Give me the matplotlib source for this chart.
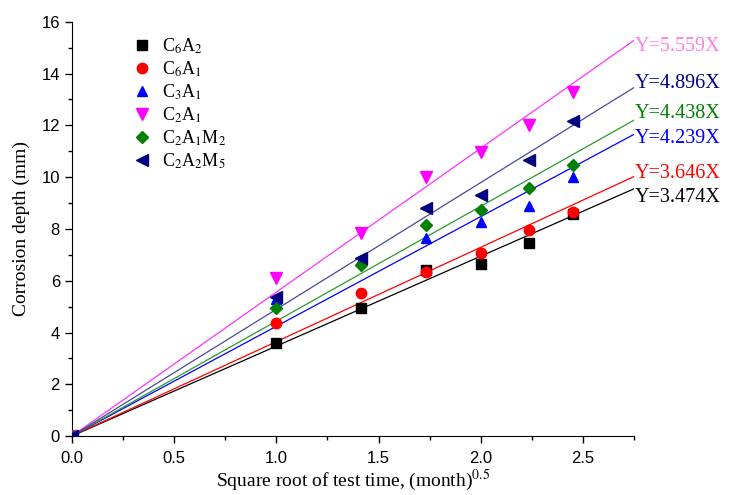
import numpy as np
import matplotlib
matplotlib.use("Agg")
import matplotlib.pyplot as plt
from matplotlib.ticker import MultipleLocator

plt.rcParams['mathtext.fontset'] = 'stix'

# measurement times (sqrt of months)
x_vals = [0, 1.0, 1.414, 1.732, 2.0, 2.236, 2.449]

c6a2 = [0, 3.61, 4.93, 6.40, 6.63, 7.47, 8.58]
c6a1 = [0, 4.35, 5.51, 6.35, 7.06, 7.94, 8.67]
c3a1 = [0, 5.28, 6.80, 7.64, 8.28, 8.89, 10.02]
c2a1 = [0, 6.09, 7.85, 10.00, 10.99, 12.02, 13.28]
c2a1m2 = [0, 4.93, 6.61, 8.15, 8.73, 9.57, 10.47]
c2a2m5 = [0, 5.36, 6.87, 8.82, 9.31, 10.67, 12.15]

labels = ["C$_6$A$_2$", "C$_6$A$_1$", "C$_3$A$_1$", "C$_2$A$_1$",
          "C$_2$A$_1$M$_2$", "C$_2$A$_2$M$_5$"]
slopes = [3.474, 3.646, 4.239, 5.559, 4.438, 4.896]
fit_text = ["Y=3.474X", "Y=3.646X", "Y=4.239X", "Y=5.559X", "Y=4.438X", "Y=4.896X"]
text_y = [9.20, 10.13, 11.48, 15.03, 12.45, 13.60]

series = [c6a2, c6a1, c3a1, c2a1, c2a1m2, c2a2m5]
markers = ["s", "o", "^", "v", "D", "<"]
mcolors = ["black", "red", "blue", "magenta", "#008000", "#000080"]
lcolors = ["black", "red", "blue", "#ff33ff", "#2a9a2a", "#4a4a9a"]
tcolors = ["black", "red", "blue", "#ff80e0", "#008000", "#000080"]
msizes = [6.5, 7.5, 7.5, 8, 6.5, 8]

fig = plt.figure(figsize=(7.4, 4.95), dpi=100)
ax = fig.add_axes([0.097, 0.119, 0.76, 0.837])

xfit = np.array([0, 2.75])
for i in range(len(series)):
    ax.plot(x_vals, series[i], linestyle="none", marker=markers[i], color=mcolors[i],
            ms=msizes[i], label=labels[i], zorder=3)
    ax.plot(xfit, slopes[i] * xfit, color=lcolors[i], lw=0.9, zorder=2)
    ax.text(2.752, text_y[i], fit_text[i], color=tcolors[i], fontsize=14.5,
            family="Liberation Serif", va="center", ha="left", clip_on=False)

ax.set_xlim(0, 2.75)
ax.set_ylim(0, 16)
ax.xaxis.set_major_locator(MultipleLocator(0.5))
ax.xaxis.set_minor_locator(MultipleLocator(0.25))
ax.yaxis.set_major_locator(MultipleLocator(2))
ax.yaxis.set_minor_locator(MultipleLocator(1))
ax.spines['top'].set_visible(False)
ax.spines['right'].set_visible(False)
ax.tick_params(which='major', direction='out', length=5, width=1, labelsize=12)
ax.tick_params(axis='x', which='major', pad=6)
ax.tick_params(which='minor', direction='out', length=3, width=1)
ax.set_xticks(np.arange(0, 2.51, 0.5))
ax.set_xticklabels(["0.0", "0.5", "1.0", "1.5", "2.0", "2.5"])
for t in ax.get_xticklabels() + ax.get_yticklabels():
    t.set_family("Liberation Sans")

ax.set_xlabel("Square root of test time, (month)$^{0.5}$", family="Liberation Serif",
              fontsize=14, labelpad=1)
ax.set_ylabel("Corrosion depth (mm)", family="Liberation Serif", fontsize=14, labelpad=8)

leg = ax.legend(loc="upper left", bbox_to_anchor=(0.09, 0.99), frameon=False,
                prop={"family": "Liberation Serif", "size": 13}, handletextpad=0.6,
                labelspacing=0.2, handlelength=1.0, borderaxespad=0.2)

fig.savefig("out.png", dpi=100)
